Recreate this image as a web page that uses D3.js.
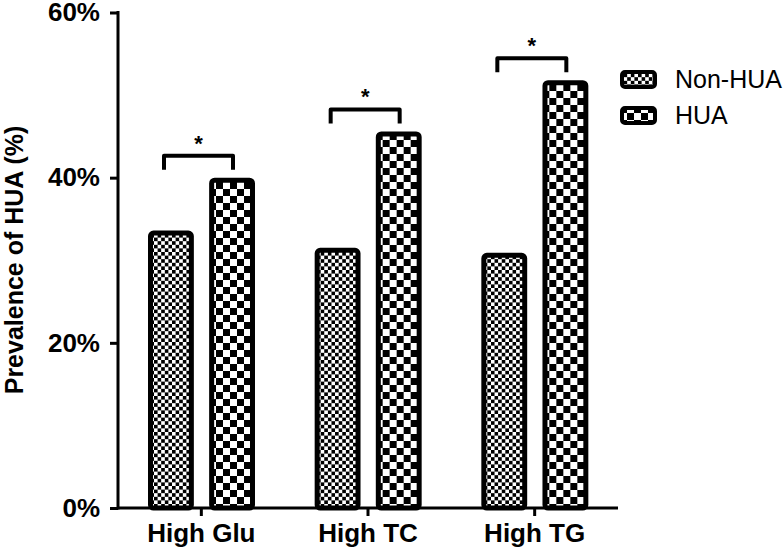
<!DOCTYPE html>
<html><head><meta charset="utf-8">
<script src="https://cdn.jsdelivr.net/npm/d3@7"></script>
<style>body{margin:0;background:#fff}svg{display:block}text{font-family:"Liberation Sans",Arial,sans-serif}</style>
</head><body><svg id="c" width="784" height="552"></svg>
<script>
const categories = ["High Glu", "High TC", "High TG"];
const series = ["Non-HUA", "HUA"];
const nonHUA = [33.6, 31.5, 30.9];
const hua = [40.0, 45.6, 51.8];
const sigLabels = ["*", "*", "*"];
const yTicks = [0, 20, 40, 60];

const svg = d3.select("#c");
const defs = svg.append("defs");
function checker(id, s) {
  const p = defs.append("pattern").attr("id", id).attr("patternUnits", "userSpaceOnUse")
    .attr("width", 2 * s).attr("height", 2 * s);
  p.append("rect").attr("width", 2 * s).attr("height", 2 * s).attr("fill", "#fff");
  p.append("rect").attr("width", s).attr("height", s).attr("fill", "#000");
  p.append("rect").attr("x", s).attr("y", s).attr("width", s).attr("height", s).attr("fill", "#000");
}
checker("pFine", 3.6);
checker("pCoarse", 7);
const fills = {"Non-HUA": "url(#pFine)", "HUA": "url(#pCoarse)"};

const x0 = d3.scaleBand().domain(categories).range([118, 618]).padding(0);
const x1 = d3.scaleBand().domain(series).range([30, 137]).paddingInner(0.25);
const y = d3.scaleLinear().domain([0, 60]).range([508, 12.5]);

const data = categories.map((c, i) => ({cat: c, vals: [{s: "Non-HUA", v: nonHUA[i]}, {s: "HUA", v: hua[i]}], sig: sigLabels[i], hua: hua[i]}));

const sw = 5;
const g = svg.selectAll("g.grp").data(data).join("g").attr("class", "grp")
  .attr("transform", d => `translate(${x0(d.cat)},0)`);
g.selectAll("rect").data(d => d.vals).join("rect")
  .attr("x", d => x1(d.s) + sw / 2)
  .attr("width", x1.bandwidth() - sw)
  .attr("y", d => y(d.v) + sw / 2)
  .attr("height", d => y(0) - y(d.v) - sw / 2)
  .attr("rx", 3)
  .attr("fill", d => fills[d.s])
  .attr("stroke", "#000").attr("stroke-width", sw);

// significance brackets
const bl = () => x1("Non-HUA") + 16, br = () => x1("HUA") + x1.bandwidth() - 22;
g.append("path")
  .attr("d", d => {
    const yt = y(d.hua) - 22, yb = y(d.hua) - 8;
    return `M${bl()},${yb}V${yt}H${br()}V${yb}`;
  })
  .attr("fill", "none").attr("stroke", "#000").attr("stroke-width", 4).attr("stroke-linejoin", "round");
g.append("text")
  .attr("x", (bl() + br()) / 2)
  .attr("y", d => y(d.hua) - 27)
  .attr("text-anchor", "middle").attr("font-size", 22).attr("font-weight", "bold")
  .text(d => d.sig);

// y axis
const yAxis = svg.append("g").attr("transform", "translate(118,0)")
  .call(d3.axisLeft(y).tickValues(yTicks).tickFormat(d => d + "%").tickSize(8).tickPadding(10));
yAxis.select(".domain").attr("stroke", "#000").attr("stroke-width", 3).attr("d", `M0,${y(60) - 1.5}V${y(0) + 1.5}`);
yAxis.selectAll(".tick line").attr("stroke", "#000").attr("stroke-width", 3);
yAxis.selectAll(".tick text").attr("font-size", 26).attr("font-weight", "bold").attr("fill", "#000")
  .attr("font-family", "'Liberation Sans', Arial, sans-serif");

// x axis
const xAxis = svg.append("g").attr("transform", `translate(0,${y(0)})`)
  .call(d3.axisBottom(x0).tickSize(8).tickPadding(8));
xAxis.select(".domain").attr("stroke", "#000").attr("stroke-width", 3).attr("d", `M118,0H618`);
xAxis.selectAll(".tick line").attr("stroke", "#000").attr("stroke-width", 3);
xAxis.selectAll(".tick text").attr("font-size", 26).attr("font-weight", "bold").attr("fill", "#000")
  .attr("font-family", "'Liberation Sans', Arial, sans-serif");

// y label
svg.append("text").attr("transform", "translate(23,260) rotate(-90)")
  .attr("text-anchor", "middle").attr("font-size", 25).attr("font-weight", "bold")
  .text("Prevalence of HUA (%)");

// legend
const leg = svg.append("g").attr("transform", "translate(620,70)");
const li = leg.selectAll("g").data(series).join("g").attr("transform", (d, i) => `translate(0,${i * 36})`);
li.append("rect").attr("x", 2).attr("y", 2).attr("width", 33).attr("height", 15).attr("rx", 3)
  .attr("fill", d => fills[d]).attr("stroke", "#000").attr("stroke-width", 4);
li.append("text").attr("x", 55).attr("y", 18).attr("font-size", 25).text(d => d);
</script></body></html>
